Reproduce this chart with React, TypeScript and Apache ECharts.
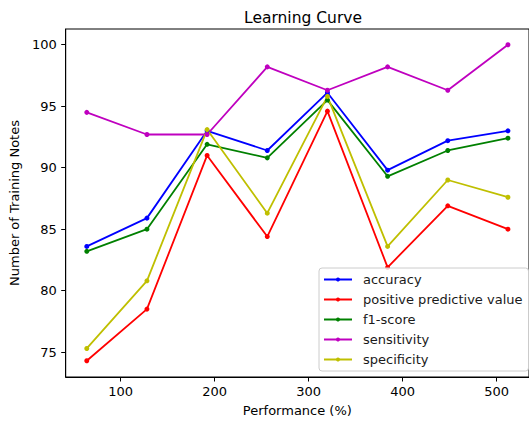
import React, { useEffect, useRef } from "react";
import * as echarts from "echarts";

const xValues = [64, 128, 192, 256, 320, 384, 448, 512];
const accuracy = [83.6, 85.9, 93.0, 91.4, 96.1, 89.8, 92.2, 93.0];
const ppv = [74.3, 78.5, 91.0, 84.4, 94.6, 81.9, 86.9, 85.0];
const f1Score = [83.2, 85.0, 91.9, 90.8, 95.5, 89.3, 91.4, 92.4];
const sensitivity = [94.5, 92.7, 92.7, 98.2, 96.3, 98.2, 96.3, 100.0];
const specificity = [75.3, 80.8, 93.1, 86.3, 95.8, 83.6, 89.0, 87.6];
const xTicks = [100, 200, 300, 400, 500];
const yTicks = [75, 80, 85, 90, 95, 100];

const FONT = "DejaVu Sans";

export default function App() {
  const ref = useRef<HTMLDivElement>(null);
  useEffect(() => {
    if (!ref.current) return;
    const chart = echarts.init(ref.current, null, { renderer: "svg" });
    const mk = (name: string, data: number[], color: string) => ({
      name,
      type: "line",
      data: xValues.map((x, i) => [x, data[i]]),
      symbol: "circle",
      symbolSize: 5,
      showSymbol: true,
      lineStyle: { color, width: 1.8 },
      itemStyle: { color },
      emphasis: { disabled: true },
    });
    chart.setOption({
      animation: false,
      backgroundColor: "#ffffff",
      title: {
        text: "Learning Curve",
        left: 298,
        textAlign: "center",
        top: 5,
        textStyle: { fontFamily: FONT, fontSize: 15.5, fontWeight: "normal", color: "#000" },
      },
      grid: {
        left: 65,
        top: 29,
        width: 466,
        height: 349,
        show: true,
        borderColor: "#000",
        borderWidth: 1,
        backgroundColor: "transparent",
      },
      legend: {
        orient: "vertical",
        left: 319,
        top: 268,
        padding: [5, 6, 5, 4],
        itemWidth: 28,
        itemHeight: 5,
        itemGap: 7,
        backgroundColor: "rgba(255,255,255,0.8)",
        borderColor: "#cccccc",
        borderWidth: 1,
        borderRadius: 3,
        textStyle: { fontFamily: FONT, fontSize: 13, color: "#1a1a1a", lineHeight: 13, padding: [0, 0, 0, 6] },
        data: ["accuracy", "positive predictive value", "f1-score", "sensitivity", "specificity"],
      },
      xAxis: {
        type: "value",
        min: 41.6,
        max: 534.4,
        name: "Performance (%)",
        nameLocation: "middle",
        nameGap: 27,
        nameTextStyle: { fontFamily: FONT, fontSize: 13, color: "#000" },
        axisLine: { show: true, lineStyle: { color: "#000", width: 1 } },
        axisTick: { show: true, length: 4.5, lineStyle: { color: "#000" }, customValues: xTicks },
        axisLabel: { fontFamily: FONT, fontSize: 13, color: "#000", margin: 8, customValues: xTicks },
        splitLine: { show: false },
      },
      yAxis: {
        type: "value",
        min: 72.98,
        max: 101.28,
        name: "Number of Training Notes",
        nameLocation: "middle",
        nameRotate: 90,
        nameGap: 41,
        nameTextStyle: { fontFamily: FONT, fontSize: 13, color: "#000" },
        axisLine: { show: true, lineStyle: { color: "#000", width: 1 } },
        axisTick: { show: true, length: 4.5, lineStyle: { color: "#000" }, customValues: yTicks },
        axisLabel: { fontFamily: FONT, fontSize: 13, color: "#000", margin: 9, customValues: yTicks },
        splitLine: { show: false },
      },
      series: [
        mk("accuracy", accuracy, "#0000ff"),
        mk("positive predictive value", ppv, "#ff0000"),
        mk("f1-score", f1Score, "#008000"),
        mk("sensitivity", sensitivity, "#bf00bf"),
        mk("specificity", specificity, "#bfbf00"),
      ],
    });
    return () => chart.dispose();
  }, []);
  return (
    <div
      ref={ref}
      style={{ position: "fixed", left: 0, top: 0, width: 529, height: 422 }}
    />
  );
}
